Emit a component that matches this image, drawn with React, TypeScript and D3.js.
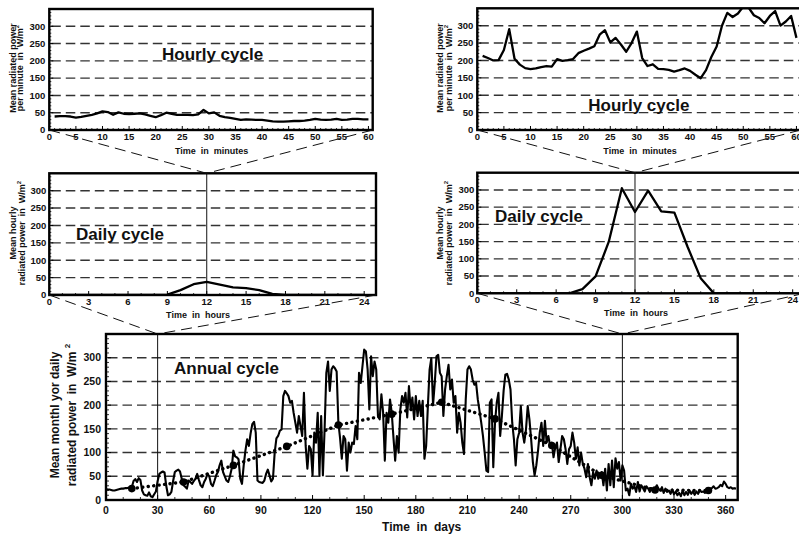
import React from "react";
import * as d3 from "d3";

// ---------- data ----------
const hourlyLeft = [
  39, 40, 40, 39, 36, 38, 41, 44, 48, 54,
  52, 44, 51, 47, 46, 47, 48, 45, 41, 37,
  43, 50, 47, 44, 44, 44, 43, 45, 58, 48,
  51, 41, 37, 35, 32, 29, 31, 30, 29, 29,
  27, 25, 24, 24, 25, 26, 26, 27, 29, 32,
  30, 29, 30, 32, 29, 30, 32, 32, 31, 31,
];
const hourlyRight = [
  213, 207, 200, 201, 230, 290, 205, 188, 178, 175,
  177, 181, 184, 182, 204, 199, 201, 204, 221, 228,
  234, 241, 274, 287, 252, 265, 246, 225, 250, 283,
  207, 184, 189, 176, 175, 173, 168, 172, 177, 170,
  159, 149, 172, 210, 240, 300, 337, 325, 335, 355,
  352, 330, 322, 307, 328, 342, 300, 312, 328, 265,
];
const dailyLeft = [0, 0, 0, 0, 0, 0, 0, 0, 0, 1, 14, 31, 38, 30, 22, 20, 14, 3, 0, 0, 0, 0, 0, 0, 0];
const dailyRight = [0, 0, 0, 0, 0, 0, 0, 0, 12, 49, 149, 305, 236, 298, 238, 234, 135, 44, 0, 0, 0, 0, 0, 0, 0];
const annualDaily = [
  23, 22, 22, 21, 20, 20, 21, 22, 23, 24,
  24, 25, 25, 26, 26, 27, 40, 44, 38, 46,
  42, 20, 12, 10, 9, 16, 8, 6, 12, 18,
  40, 55, 58, 60, 58, 30, 10, 12, 17, 40,
  59, 62, 64, 60, 45, 31, 28, 24, 41, 38,
  34, 40, 45, 55, 42, 31, 27, 38, 45, 55,
  50, 34, 29, 40, 52, 59, 73, 83, 59, 50,
  41, 38, 50, 66, 104, 92, 90, 86, 45, 34,
  73, 104, 128, 114, 140, 160, 165, 142, 41, 38,
  37, 36, 41, 55, 64, 52, 39, 45, 100, 130,
  135, 146, 149, 219, 230, 225, 219, 205, 209, 184,
  163, 142, 177, 156, 135, 226, 114, 66, 114, 107,
  52, 142, 121, 184, 52, 177, 52, 149, 268, 292,
  230, 275, 282, 278, 271, 163, 130, 87, 135, 128,
  62, 121, 100, 121, 118, 156, 128, 268, 247, 282,
  317, 313, 275, 191, 303, 261, 292, 275, 177, 170,
  223, 184, 83, 184, 163, 212, 184, 132, 83, 135,
  100, 191, 219, 205, 226, 174, 240, 191, 216, 170,
  219, 177, 209, 177, 209, 87, 114, 198, 275, 299,
  200, 247, 303, 306, 268, 261, 177, 233, 261, 285,
  233, 254, 205, 219, 142, 184, 163, 121, 97, 212,
  275, 282, 275, 254, 243, 247, 212, 188, 163, 135,
  100, 62, 59, 205, 212, 69, 163, 205, 226, 135,
  177, 230, 264, 266, 254, 233, 163, 128, 73, 128,
  142, 198, 142, 121, 149, 198, 170, 128, 80, 52,
  73, 104, 142, 163, 114, 167, 121, 135, 114, 121,
  90, 111, 121, 80, 107, 135, 128, 107, 76, 107,
  114, 142, 121, 87, 111, 73, 100, 76, 66, 48,
  76, 48, 31, 59, 45, 62, 45, 52, 59, 31,
  66, 20, 76, 31, 83, 27, 88, 66, 80, 41,
  73, 62, 20, 24, 10, 34, 24, 29, 17, 38,
  18, 31, 25, 18, 29, 24, 17, 25, 18, 24,
  31, 24, 20, 27, 15, 24, 17, 20, 13, 22,
  12, 18, 10, 15, 8, 20, 10, 17, 11, 20,
  13, 18, 11, 18, 13, 20, 17, 18, 15, 17,
  20, 24, 25, 29, 24, 25, 27, 32, 29, 39,
  34, 27, 25, 27, 24, 25, 24,
];
const monthDays = [15, 45, 74, 105, 135, 166, 195, 226, 259, 288, 319, 350];
const monthMeans = [24, 38, 73, 113, 158, 181, 206, 171, 115, 52, 21, 20];

const yTicks = [0, 50, 100, 150, 200, 250, 300];
const minuteTicks = [0, 5, 10, 15, 20, 25, 30, 35, 40, 45, 50, 55, 60];
const hourTicks = [0, 3, 6, 9, 12, 15, 18, 21, 24];
const dayTicks = [0, 30, 60, 90, 120, 150, 180, 210, 240, 270, 300, 330, 360];

// ---------- layout ----------
const FONT = "'Liberation Sans', Arial, Helvetica, sans-serif";
type Box = { x0: number; x1: number; y0: number; y1: number; xMax: number };
const HL: Box = { x0: 49.3, x1: 372.7, y0: 9, y1: 130, xMax: 60.8 };
const HR: Box = { x0: 477.3, x1: 800.7, y0: 8.3, y1: 130, xMax: 60.8 };
const DL: Box = { x0: 49.3, x1: 376, y0: 173.3, y1: 295, xMax: 24.9 };
const DR: Box = { x0: 477.3, x1: 804.5, y0: 172.7, y1: 293.3, xMax: 24.9 };
const BT: Box = { x0: 106, x1: 737.7, y0: 334, y1: 500, xMax: 367 };

function scales(b: Box) {
  return {
    x: d3.scaleLinear().domain([0, b.xMax]).range([b.x0, b.x1]),
    y: d3.scaleLinear().domain([0, 350]).range([b.y1, b.y0]),
  };
}

type PanelProps = {
  id: string;
  box: Box;
  majors: number[];
  minorStep: number;
  series: number[];
  xStart: number;
  tickFont: number;
  xLabelDy: number;
  yLabelGap: number;
  majorLen: number;
  minorLen: number;
  lineWidth: number;
  vlines?: number[];
};

function Panel(p: PanelProps) {
  const { x, y } = scales(p.box);
  const b = p.box;
  const pts: [number, number][] = p.series.map((v, i) => [i + p.xStart, v]);
  const line = d3
    .line<[number, number]>()
    .x((d) => x(d[0]))
    .y((d) => y(d[1]));
  const minorX = d3
    .range(0, b.xMax, p.minorStep)
    .filter((v) => !p.majors.some((m) => Math.abs(m - v) < 1e-6));
  const minorY = d3.range(0, 350, 10).filter((v) => v % 50 !== 0);
  return (
    <g>
      <defs>
        <clipPath id={p.id}>
          <rect x={b.x0} y={b.y0} width={b.x1 - b.x0} height={b.y1 - b.y0} />
        </clipPath>
      </defs>
      {yTicks
        .filter((v) => v > 0)
        .map((v) => (
          <line
            key={"g" + v}
            x1={b.x0 + 2}
            x2={b.x1}
            y1={y(v)}
            y2={y(v)}
            stroke="#333"
            strokeWidth={1.4}
            strokeDasharray="9.5 5"
          />
        ))}
      {(p.vlines || []).map((v) => (
        <line key={"v" + v} x1={x(v)} x2={x(v)} y1={b.y0} y2={b.y1} stroke="#111" strokeWidth={1} />
      ))}
      <path
        d={line(pts) || ""}
        fill="none"
        stroke="#000"
        strokeWidth={p.lineWidth}
        strokeLinejoin="round"
        clipPath={`url(#${p.id})`}
      />
      {p.majors.map((v) => (
        <line key={"mx" + v} x1={x(v)} x2={x(v)} y1={b.y1} y2={b.y1 - p.majorLen} stroke="#000" strokeWidth={1} />
      ))}
      {minorX.map((v) => (
        <line key={"nx" + v} x1={x(v)} x2={x(v)} y1={b.y1} y2={b.y1 - p.minorLen} stroke="#000" strokeWidth={0.8} />
      ))}
      {yTicks.map((v) => (
        <line key={"my" + v} x1={b.x0} x2={b.x0 + p.majorLen} y1={y(v)} y2={y(v)} stroke="#000" strokeWidth={1} />
      ))}
      {minorY.map((v) => (
        <line key={"ny" + v} x1={b.x0} x2={b.x0 + p.minorLen} y1={y(v)} y2={y(v)} stroke="#000" strokeWidth={0.8} />
      ))}
      <rect
        x={b.x0}
        y={b.y0}
        width={b.x1 - b.x0}
        height={b.y1 - b.y0}
        fill="none"
        stroke="#000"
        strokeWidth={2.4}
      />
      <g fontFamily={FONT} fontWeight="bold" fontSize={p.tickFont} fill="#111">
        {p.majors.map((v) => (
          <text key={"tx" + v} x={x(v)} y={b.y1 + p.xLabelDy} textAnchor="middle">
            {v}
          </text>
        ))}
        {yTicks.map((v) => (
          <text key={"ty" + v} x={b.x0 - p.yLabelGap} y={y(v)} dy="0.35em" textAnchor="end">
            {v}
          </text>
        ))}
      </g>
    </g>
  );
}

function Connectors({ from, to, toX }: { from: Box; to: Box; toX: number }) {
  const { x } = scales(to);
  const tx = x(toX);
  const ty = to.y0;
  return (
    <g stroke="#111" strokeWidth={1} strokeDasharray="11 6" fill="none">
      <line x1={from.x0} y1={from.y1} x2={tx} y2={ty} />
      <line x1={from.x1} y1={from.y1} x2={tx} y2={ty} />
    </g>
  );
}

function T(props: any) {
  return <text xmlSpace="preserve" style={{ whiteSpace: "pre" }} {...props} />;
}

export default function App() {
  const bs = scales(BT);
  const monthly: [number, number][] = monthDays.map((d, i) => [d, monthMeans[i]]);
  const mLine = d3
    .line<[number, number]>()
    .x((d) => bs.x(d[0]))
    .y((d) => bs.y(d[1]));
  return (
    <svg
      width={799}
      height={536}
      style={{ position: "absolute", left: 0, top: 0, background: "#fff" }}
      fontFamily={FONT}
    >
      <rect x={0} y={0} width={799} height={536} fill="#fff" />
      <Panel
        id="cHL"
        box={HL}
        majors={minuteTicks}
        minorStep={1}
        series={hourlyLeft}
        xStart={1}
        tickFont={9.5}
        xLabelDy={9.5}
        yLabelGap={4}
        majorLen={4}
        minorLen={2}
        lineWidth={2.3}
      />
      <Panel
        id="cHR"
        box={HR}
        majors={minuteTicks}
        minorStep={1}
        series={hourlyRight}
        xStart={1}
        tickFont={9.5}
        xLabelDy={9.5}
        yLabelGap={4}
        majorLen={4}
        minorLen={2}
        lineWidth={2.3}
      />
      <Panel
        id="cDL"
        box={DL}
        majors={hourTicks}
        minorStep={1}
        series={dailyLeft}
        xStart={0}
        tickFont={9.5}
        xLabelDy={10}
        yLabelGap={3}
        majorLen={4}
        minorLen={2}
        lineWidth={2.3}
        vlines={[12]}
      />
      <Panel
        id="cDR"
        box={DR}
        majors={hourTicks}
        minorStep={1}
        series={dailyRight}
        xStart={0}
        tickFont={9.5}
        xLabelDy={10}
        yLabelGap={3}
        majorLen={4}
        minorLen={2}
        lineWidth={2.3}
        vlines={[12]}
      />
      <Panel
        id="cBT"
        box={BT}
        majors={dayTicks}
        minorStep={10}
        series={annualDaily}
        xStart={0}
        tickFont={10.5}
        xLabelDy={14}
        yLabelGap={5}
        majorLen={5}
        minorLen={3}
        lineWidth={2.1}
        vlines={[30, 300]}
      />
      {/* monthly means */}
      <path
        d={mLine(monthly) || ""}
        fill="none"
        stroke="#000"
        strokeWidth={3.4}
        strokeLinecap="round"
        strokeDasharray="0.1 5.4"
      />
      {monthly.map((d, i) => (
        <circle key={"m" + i} cx={bs.x(d[0])} cy={bs.y(d[1])} r={3.8} fill="#000" />
      ))}

      {/* panel titles */}
      <g fontWeight="bold" fontSize={17} fill="#111">
        <text x={162} y={60}>Hourly cycle</text>
        <text x={588.3} y={110.5}>Hourly cycle</text>
        <text x={76} y={240}>Daily cycle</text>
        <text x={495} y={221.7}>Daily cycle</text>
        <text x={174} y={374.3}>Annual cycle</text>
      </g>

      {/* axis titles */}
      <g fontWeight="bold" fill="#111">
        <T fontSize={9} x={211.7} y={153.5} textAnchor="middle">Time  in  minutes</T>
        <T fontSize={9} x={640} y={153.5} textAnchor="middle">Time  in  minutes</T>
        <T fontSize={9} x={198} y={318} textAnchor="middle">Time  in  hours</T>
        <T fontSize={9} x={636} y={316} textAnchor="middle">Time  in  hours</T>
        <T fontSize={12} x={421.7} y={531} textAnchor="middle">Time  in  days</T>

        <T fontSize={9} textAnchor="middle" transform="translate(15.5,68) rotate(-90)">Mean radiated power</T>
        <T fontSize={9} textAnchor="middle" transform="translate(23.4,68) rotate(-90)">
          per minute  in  W/m<tspan fontSize={6} dy={-4}>2</tspan>
        </T>
        <T fontSize={9} textAnchor="middle" transform="translate(443.3,68) rotate(-90)">Mean radiated power</T>
        <T fontSize={9} textAnchor="middle" transform="translate(452.2,68) rotate(-90)">
          per minute  in  W/m<tspan fontSize={6} dy={-4}>2</tspan>
        </T>

        <T fontSize={9} textAnchor="middle" transform="translate(15.7,233) rotate(-90)">Mean hourly</T>
        <T fontSize={9} textAnchor="middle" transform="translate(24.7,233) rotate(-90)">
          radiated power  in  W/m<tspan fontSize={6} dy={-4}>2</tspan>
        </T>
        <T fontSize={9} textAnchor="middle" transform="translate(443.3,233) rotate(-90)">Mean hourly</T>
        <T fontSize={9} textAnchor="middle" transform="translate(452.2,233) rotate(-90)">
          radiated power  in  W/m<tspan fontSize={6} dy={-4}>2</tspan>
        </T>

        <T fontSize={12} textAnchor="middle" transform="translate(59.3,415) rotate(-90)">Mean monthl yor daily</T>
        <T fontSize={12} textAnchor="middle" transform="translate(76.3,415) rotate(-90)">
          radiated power  in  W/m <tspan fontSize={8} dy={-6}>2</tspan>
        </T>
      </g>

      {/* zoom connectors */}
      <Connectors from={HL} to={DL} toX={12} />
      <Connectors from={HR} to={DR} toX={12} />
      <Connectors from={DL} to={BT} toX={30} />
      <Connectors from={DR} to={BT} toX={300} />
    </svg>
  );
}
